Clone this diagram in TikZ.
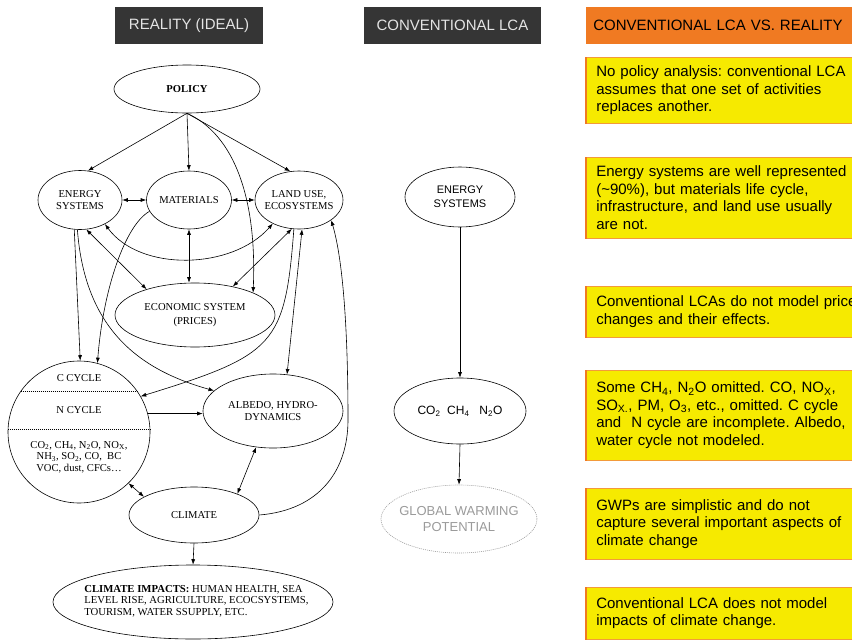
\documentclass[tikz,border=0pt]{standalone}
\usepackage{fontspec}
\setmainfont{Liberation Serif}
\setsansfont{Liberation Sans}
\usetikzlibrary{arrows.meta,shapes.geometric}

\definecolor{hdrgray}{HTML}{353535}
\definecolor{hdrtext}{HTML}{E4E4E4}
\definecolor{lcaorange}{HTML}{F07A22}
\definecolor{noteyellow}{HTML}{F6EA00}
\definecolor{noteedge}{HTML}{F39A3A}
\definecolor{gwpgray}{HTML}{9A9A9A}

\newcommand\tmsfont{\fontsize{10.6}{11.8}\selectfont}
\newcommand\hdrfont{\sffamily\fontsize{15}{18}\selectfont}
\newcommand\notefont{\sffamily\fontsize{15}{17.5}\selectfont}
\newcommand\midfont{\sffamily\fontsize{11}{14}\selectfont}
\frenchspacing

\begin{document}
\begin{tikzpicture}[x=1pt,y=-1pt,line width=0.6pt,>={Latex[length=5.5pt,width=4pt]},
  ell/.style={draw,ellipse,inner sep=0pt},
  lbl/.style={align=center,inner sep=0pt,font=\tmsfont},
  hdr/.style={fill=hdrgray,text=hdrtext,font=\hdrfont,inner sep=0pt,minimum height=37pt},
  note/.style={fill=noteyellow,draw=noteedge,anchor=north west,text width=270pt,
    inner xsep=10pt,inner ysep=0pt,align=left,font=\notefont},
  dotline/.style={line width=0.9pt,dash pattern=on 1pt off 1pt}]

\useasboundingbox (0,0) rectangle (852,640);

% headers
\node[hdr,minimum width=148pt] (h1) at (189,25.5) {REALITY (IDEAL)};
\node[hdr,minimum width=177pt] (h2) at (452.5,25.5) {CONVENTIONAL LCA};
\node[hdr,fill=lcaorange,text=black,anchor=west,text width=270pt,inner xsep=7pt,align=left] (h3) at (586,25.5) {CONVENTIONAL LCA VS. REALITY};

% reality (ideal)
\node[ell,minimum width=146pt,minimum height=48pt,label={[lbl,font=\tmsfont\bfseries]center:POLICY}] (pol) at (187,89) {};
\node[ell,minimum width=84pt,minimum height=59pt,label={[lbl]center:{ENERGY\\SYSTEMS}}] (ene) at (80,200) {};
\node[ell,minimum width=85pt,minimum height=58pt,label={[lbl]center:MATERIALS}] (mat) at (189,200) {};
\node[ell,minimum width=88pt,minimum height=58pt,label={[lbl]center:{LAND USE,\\ECOSYSTEMS}}] (lnd) at (299,200) {};
\node[ell,minimum width=160pt,minimum height=64pt,label={[lbl,font=\fontsize{10.6}{14}\selectfont]center:{ECONOMIC SYSTEM\\(PRICES)}}] (eco) at (195,315) {};
\node[draw,circle,minimum size=142pt,inner sep=0pt] (cyc) at (79,432) {};
\node[ell,minimum width=140pt,minimum height=74pt,label={[lbl]center:{ALBEDO, HYDRO-\\DYNAMICS}}] (alb) at (273,411) {};
\node[ell,minimum width=130pt,minimum height=56pt,label={[lbl]center:CLIMATE}] (cli) at (194,515) {};
\node[ell,minimum width=280pt,minimum height=74pt] (imp) at (193,602) {};
\node[lbl,anchor=west,align=left,font=\fontsize{10.7}{11.3}\selectfont] (impt) at (84,601)
  {\textbf{CLIMATE IMPACTS:} HUMAN HEALTH, SEA\\LEVEL RISE, AGRICULTURE, ECOCSYSTEMS,\\TOURISM, WATER SSUPPLY, ETC.};

% inside the cycle circle
\node[lbl] (cc) at (79,378) {C CYCLE};
\node[lbl] (nc) at (79,410) {N CYCLE};
\node[lbl,font=\fontsize{10.6}{11.5}\selectfont] (gas) at (79,457)
  {CO\textsubscript{2}, CH\textsubscript{4}, N\textsubscript{2}O, NO\textsubscript{X},\\NH\textsubscript{3}, SO\textsubscript{2}, CO,\ \ BC\\VOC, dust, CFCs\ldots};
\draw[dotline] (cyc.145) -- (cyc.35);
\draw[dotline] (cyc.178) -- (cyc.2);

% conventional lca
\node[ell,minimum width=110pt,minimum height=60pt,label={[lbl,font=\midfont]center:{ENERGY\\SYSTEMS}}] (ene2) at (460,197) {};
\node[ell,minimum width=132pt,minimum height=66pt,label={[lbl,font=\sffamily\fontsize{12}{14}\selectfont]center:{CO\textsubscript{2}\ \ CH\textsubscript{4}\ \ \ N\textsubscript{2}O}}] (ghg) at (460,411) {};
\node[ell,draw=gwpgray,dash pattern=on 1pt off 1pt,minimum width=156pt,minimum height=68pt,
  label={[lbl,font=\sffamily\fontsize{13}{15.5}\selectfont,text=gwpgray]center:{GLOBAL WARMING\\POTENTIAL}}] (gwp) at (459,519) {};

\draw[->] (ene2.south) -- (ghg.north);
\draw[->] (ghg.south) -- (gwp.north);

% links
\draw[->] (pol.south) -- (ene.75);
\draw[->] (pol.south) -- (mat.north);
\draw[->] (pol.south) -- (lnd.107);
\draw[->] (pol.south) .. controls (235,135) and (257,200) .. (eco.21);
\draw[<->] (ene.east) -- (mat.west);
\draw[<->] (mat.east) -- (lnd.west);
\draw[<->] (mat.south) -- (mat.south |- eco.north);
\draw[<->] (ene.-78) -- (eco.152);
\draw[<->] (ene.-44) .. controls (140,272) and (232,270) .. (lnd.222);
\draw[<->] (lnd.-104) -- (eco.37);
\draw[<->] (lnd.-84) -- (alb.69);
\draw[->] (ene.-101) -- (cyc.89);
\draw[->] (ene.-95) .. controls (85,330) and (140,370) .. (alb.161);
\draw[->] (mat.196) .. controls (125,225) and (103,290) .. (cyc.75);
\draw[->] (lnd.-100) .. controls (285,345) and (275,355) .. (cyc.30);
\draw[->] (cyc.15) -- (cyc.15 -| alb.west);
\draw[<->] (cyc.-46) -- (cli.160);
\draw[<->] (alb.-115) -- (cli.26);
\draw[->] (cli.east) .. controls (320,510) and (348,470) .. (348,420)
  .. controls (348,330) and (343,260) .. (lnd.-32);
\draw[->] (cli.south) -- (imp.north);

% notes
\node[note,minimum height=66pt] (n1) at (586,57) {No policy analysis: conventional LCA\\assumes that one set of activities\\replaces another.};
\node[note,minimum height=81pt] (n2) at (586,157) {Energy systems are well represented\\(\textasciitilde90\%), but materials life cycle,\\infrastructure, and land use usually\\are not.};
\node[note,minimum height=51pt] (n3) at (586,286) {Conventional LCAs do not model price\\changes and their effects.};
\node[note,minimum height=90pt] (n4) at (586,370) {Some CH\textsubscript{4}, N\textsubscript{2}O omitted. CO, NO\textsubscript{X},\\SO\textsubscript{X.}, PM, O\textsubscript{3}, etc., omitted. C cycle\\and\ \ N cycle are incomplete. Albedo,\\water cycle not modeled.};
\node[note,minimum height=71pt] (n5) at (586,488) {GWPs are simplistic and do not\\capture several important aspects of\\climate change};
\node[note,minimum height=52pt] (n6) at (586,587) {Conventional LCA does not model\\impacts of climate change.};
\foreach \n in {n1,n2,n3,n4,n5,n6}
  \draw[lcaorange,line width=1.6pt] (\n.north west) -- (\n.south west);

\end{tikzpicture}
\end{document}
